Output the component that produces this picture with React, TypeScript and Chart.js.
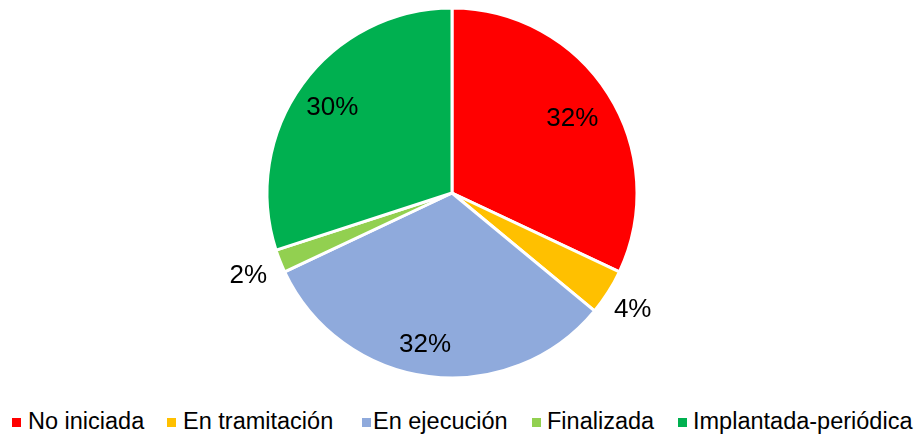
import React, { useEffect, useRef } from "react";
import { Chart, registerables } from "chart.js";

Chart.register(...registerables);

const categories = [
  "No iniciada",
  "En tramitación",
  "En ejecución",
  "Finalizada",
  "Implantada-periódica",
];
const counts = [16, 2, 16, 1, 15];
const colors = ["#FF0000", "#FFC000", "#8FAADC", "#92D050", "#00B050"];

// label placement per slice: inside (fraction of radius) or outside (px beyond edge), optional angle shift (deg)
const labelPlacement: { inside?: number; outside?: number; shift?: number }[] = [
  { inside: 0.77 },
  { outside: 29 },
  { inside: 0.82, shift: 3 },
  { outside: 34 },
  { inside: 0.8 },
];

// legend layout (x of each marker, x of each text)
const legendMarkerX = [12, 167, 362, 532, 678];
const legendTextX = [28, 183, 373, 547, 693];

const FONT = '"Liberation Sans", Arial, sans-serif';

const pctLabels = {
  id: "pctLabels",
  afterDatasetsDraw(chart: any) {
    const ctx = chart.ctx;
    const meta = chart.getDatasetMeta(0);
    const data = chart.data.datasets[0].data as number[];
    const total = data.reduce((a, b) => a + b, 0);
    const size = 26;
    ctx.save();
    ctx.font = `${size}px ${FONT}`;
    ctx.fillStyle = "#000000";
    ctx.textAlign = "center";
    ctx.textBaseline = "alphabetic";
    meta.data.forEach((arc: any, i: number) => {
      const p = arc.getProps(["x", "y", "startAngle", "endAngle", "outerRadius"], true);
      const pl = labelPlacement[i];
      const mid = (p.startAngle + p.endAngle) / 2 + ((pl.shift || 0) * Math.PI) / 180;
      const r = pl.inside !== undefined ? p.outerRadius * pl.inside : p.outerRadius + (pl.outside || 0);
      const lx = p.x + Math.cos(mid) * r;
      const ly = p.y + Math.sin(mid) * r;
      const txt = Math.round((data[i] / total) * 100) + "%";
      ctx.fillText(txt, lx, ly + size * 0.358);
    });
    ctx.restore();
  },
};

export default function App() {
  const ref = useRef<HTMLCanvasElement | null>(null);

  useEffect(() => {
    if (!ref.current) return;
    const chart = new Chart(ref.current, {
      type: "pie",
      data: {
        labels: categories,
        datasets: [
          {
            data: counts,
            backgroundColor: colors,
            borderColor: "#FFFFFF",
            borderWidth: 3,
            hoverOffset: 0,
            offset: 0,
          },
        ],
      },
      options: {
        animation: false,
        responsive: true,
        maintainAspectRatio: false,
        events: [],
        layout: { padding: { left: 0, right: 15, top: 6.5, bottom: 10.5 } },
        plugins: {
          legend: { display: false },
          tooltip: { enabled: false },
        },
      },
      plugins: [pctLabels],
    });
    return () => chart.destroy();
  }, []);

  return (
    <div
      style={{
        position: "absolute",
        left: 0,
        top: 0,
        width: 919,
        height: 434,
        background: "#ffffff",
        overflow: "hidden",
      }}
    >
      <div style={{ position: "absolute", left: 0, top: 0, width: 919, height: 390 }}>
        <canvas ref={ref} />
      </div>
      {categories.map((c, i) => (
        <React.Fragment key={c}>
          <div
            style={{
              position: "absolute",
              left: legendMarkerX[i],
              top: 417.5,
              width: 9,
              height: 9,
              background: colors[i],
            }}
          />
          <div
            style={{
              position: "absolute",
              left: legendTextX[i],
              top: 409.5,
              fontFamily: FONT,
              fontSize: 23.5,
              lineHeight: "23.5px",
              color: "#000000",
              whiteSpace: "nowrap",
            }}
          >
            {c}
          </div>
        </React.Fragment>
      ))}
    </div>
  );
}
